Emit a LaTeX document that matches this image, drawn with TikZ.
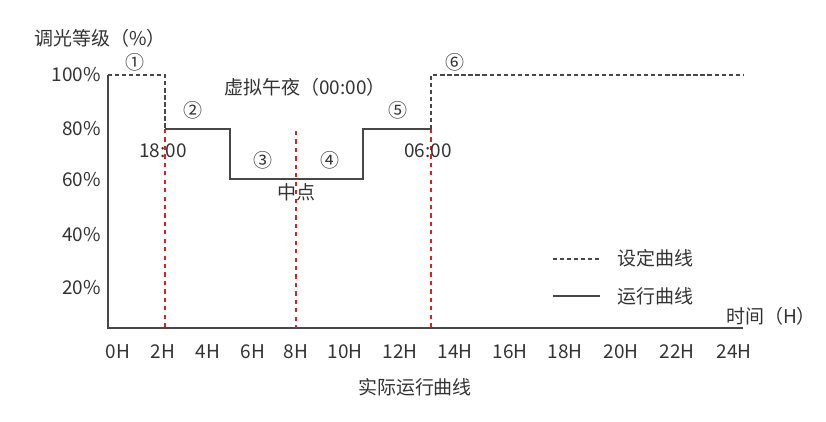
\documentclass[tikz,border=0pt]{standalone}
\usepackage{fontspec}
\setmainfont{Noto Sans CJK SC}
\definecolor{txt}{HTML}{333333}
\definecolor{redline}{HTML}{E02020}
\tikzset{
  lbl/.style={text=txt,font=\fontsize{13.5pt}{15pt}\selectfont,inner sep=0pt},
  setcurve/.style={densely dashed,thick,txt!90},
  runcurve/.style={thick,txt!90},
  marker/.style={dashed,thick,redline}
}
\begin{document}
\begin{tikzpicture}[x=0.025cm,y=-0.025cm]
    \useasboundingbox (0,0) rectangle (826,421);

    % axes
    \draw[runcurve] (108,75) -- (108,328) -- (743,328);

    % y labels
    \foreach \v/\y in {100/75,80/129,60/180,40/235,20/288}
        \node[lbl,anchor=east] (y\v) at (101,\y) {\v\%};
    \node[lbl] (ytitle) at (100,38) {调光等级（\%）};

    % x labels
    \foreach \h/\x in {0/118,2/163,4/208,6/253,8/296,10/345,12/400,14/455,16/510,18/565,20/621,22/677,24/734}
        \node[lbl] (x\h) at (\x,352) {\h H};
    \node[lbl] (xtitle) at (771,316) {时间（H）};
    \node[lbl] (caption) at (415,387) {实际运行曲线};

    % red markers
    \draw[marker] (165,129) -- (165,328);
    \draw[marker] (296,131) -- (296,328);
    \draw[marker] (431,129) -- (431,328);

    % set curve
    \draw[setcurve] (108,75) -- (165,75) -- (165,129);
    \draw[setcurve] (431,129) -- (431,75) -- (743,75);

    % run curve
    \draw[runcurve] (165,129) -- (230,129) -- (230,179) -- (363,179) -- (363,129) -- (431,129);

    % stage numbers
    \node[lbl] (s1) at (135,62) {①};
    \node[lbl] (s2) at (193,110) {②};
    \node[lbl] (s3) at (263,160) {③};
    \node[lbl] (s4) at (330,160) {④};
    \node[lbl] (s5) at (398,110) {⑤};
    \node[lbl] (s6) at (455,62) {⑥};

    \node[lbl] (midnight) at (305,87) {虚拟午夜（00:00）};
    \node[lbl] (t18) at (163,151) {18:00};
    \node[lbl] (t06) at (428,151) {06:00};
    \node[lbl] (mid) at (296,192) {中点};

    % legend
    \coordinate (l1a) at (553,259);
    \coordinate (l1b) at (600,259);
    \coordinate (l2a) at (553,296);
    \coordinate (l2b) at (600,296);
    \draw[setcurve] (l1a) -- (l1b);
    \draw[runcurve] (l2a) -- (l2b);
    \node[lbl,anchor=west] (leg1) at (617,258) {设定曲线};
    \node[lbl,anchor=west] (leg2) at (617,296) {运行曲线};
\end{tikzpicture}
\end{document}
